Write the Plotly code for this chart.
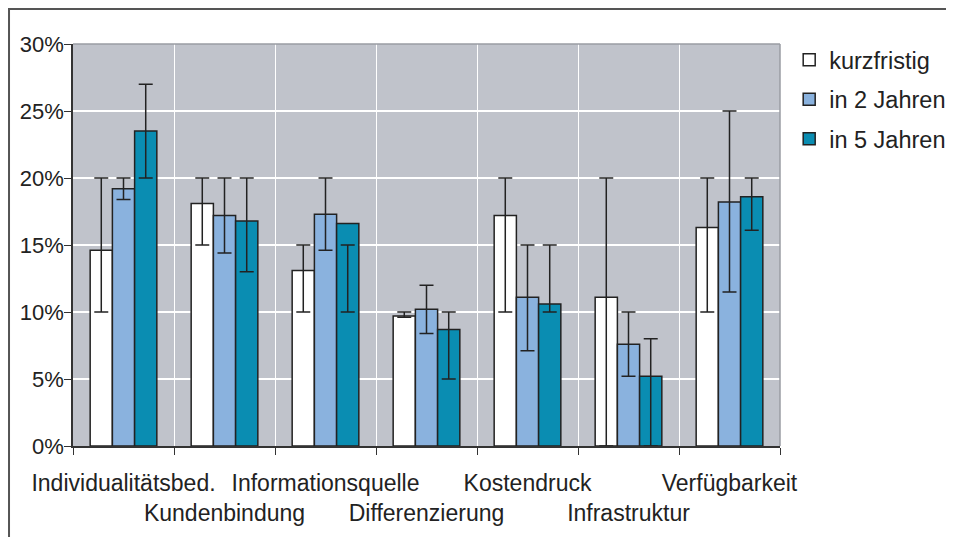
import plotly.graph_objects as go

categories = ["Individualitätsbed.", "Kundenbindung", "Informationsquelle", "Differenzierung",
              "Kostendruck", "Infrastruktur", "Verfügbarkeit"]
series_names = ["kurzfristig", "in 2 Jahren", "in 5 Jahren"]
kurzfristig = [14.6, 18.1, 13.1, 9.7, 17.2, 11.1, 16.3]
kurz_hi = [20, 20, 15, 10, 20, 20, 20]
kurz_lo = [10, 15, 10, 9.6, 10, 0, 10]
in2 = [19.2, 17.2, 17.3, 10.2, 11.1, 7.6, 18.2]
in2_hi = [20, 20, 20, 12, 15, 10, 25]
in2_lo = [18.4, 14.4, 14.6, 8.4, 7.1, 5.2, 11.5]
in5 = [23.5, 16.8, 16.6, 8.7, 10.6, 5.2, 18.6]
in5_hi = [27, 20, 15, 10, 15, 8, 20]
in5_lo = [20, 13, 10, 5, 10, 0, 16.1]
y_ticks = [0, 5, 10, 15, 20, 25, 30]
y_ticklabels = ["0%", "5%", "10%", "15%", "20%", "25%", "30%"]

colors = ["#ffffff", "#8ab2de", "#0a8db2"]

fig = go.Figure()
for name, vals, hi, lo, col in zip(series_names, [kurzfristig, in2, in5],
                                   [kurz_hi, in2_hi, in5_hi], [kurz_lo, in2_lo, in5_lo], colors):
    fig.add_trace(go.Bar(
        x=categories, y=vals, name=name, legendgroup=name,
        marker=dict(color=col, line=dict(color="#222222", width=1.5)),
        error_y=dict(type="data", symmetric=False,
                     array=[h - v for h, v in zip(hi, vals)],
                     arrayminus=[v - l for v, l in zip(vals, lo)],
                     color="#222222", thickness=1.5, width=7),
    ))

ticktext = [c if i % 2 == 0 else "<br>" + c for i, c in enumerate(categories)]

font = "Liberation Sans, Arial, sans-serif"
fig.update_layout(
    width=954, height=537,
    margin=dict(l=65, r=182, t=36, b=99, autoexpand=False),
    paper_bgcolor="#ffffff", plot_bgcolor="#c0c3cb",
    barmode="group", bargap=0.34, bargroupgap=0,
    font=dict(family=font, size=22, color="#222222"),
    showlegend=True,
    legend=dict(x=1.013, y=1.015, xanchor="left", yanchor="top",
                traceorder="grouped", tracegroupgap=6,
                font=dict(size=23.5, color="#222222"), itemwidth=30,
                bgcolor="rgba(0,0,0,0)"),
    xaxis=dict(tickvals=categories, ticktext=ticktext, tickson="boundaries",
               tickangle=0, automargin=False, ticklabelstandoff=16,
               ticks="outside", ticklen=7, tickcolor="#333333",
               showgrid=True, gridcolor="#ffffff", gridwidth=1,
               showline=True, linecolor="#333333", linewidth=1.5,
               tickfont=dict(size=23, color="#222222")),
    yaxis=dict(range=[0, 30], tickvals=y_ticks, ticktext=y_ticklabels,
               automargin=False, ticklabelstandoff=-4,
               ticks="outside", ticklen=7, tickcolor="#333333",
               showgrid=True, gridcolor="#ffffff", gridwidth=1.5,
               showline=True, linecolor="#333333", linewidth=1.5,
               zeroline=False, tickfont=dict(size=22, color="#222222")),
    shapes=[
        dict(type="line", xref="paper", yref="paper", x0=0, x1=1, y0=1, y1=1,
             line=dict(color="#9a9da3", width=1.5)),
        dict(type="line", xref="paper", yref="paper", x0=1, x1=1, y0=0, y1=1,
             line=dict(color="#9a9da3", width=1.5)),
        dict(type="rect", xref="paper", yref="paper", x0=-0.0905, x1=1.3, y0=-0.3, y1=1.087,
             line=dict(color="#555555", width=2)),
    ],
)

fig.write_html("out.html")
